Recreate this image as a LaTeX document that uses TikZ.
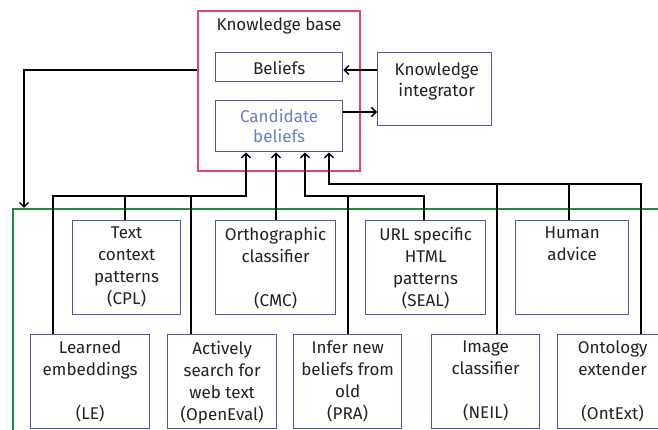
\documentclass[tikz,border=0pt]{standalone}
\usepackage{fontspec}
\setmainfont{Fira Sans}
\usetikzlibrary{arrows.meta}
\definecolor{kbpink}{HTML}{E8407A}
\definecolor{grn}{HTML}{1E8E3E}
\definecolor{boxblue}{HTML}{4F57A8}
\definecolor{candtxt}{HTML}{6A7FC8}
\definecolor{txt}{HTML}{222222}
\tikzset{
  lbl/.style={font=\fontsize{17}{22}\selectfont, text=txt, inner sep=0pt, align=center},
  comp/.style={draw=boxblue, line width=1.3pt, fill=white, inner sep=0pt, anchor=north west},
  conn/.style={draw=black, line width=1.8pt, line join=miter},
  arr/.style={-{Straight Barb[length=4.5pt,width=9pt,line width=1.5pt]}},
}
\begin{document}
\begin{tikzpicture}[x=1pt,y=-1pt]
\clip (0,0) rectangle (658,430);
\fill[white] (0,0) rectangle (658,430);
% containers
\node[draw=grn, line width=2pt, minimum width=700pt, minimum height=300pt, anchor=north west, inner sep=0pt] (green) at (12,208) {};
\node[draw=kbpink, line width=2pt, minimum width=162pt, minimum height=160pt, anchor=north west, inner sep=0pt] (kb) at (197,10) {};
\node[lbl] (kbt) at (279,26) {Knowledge base};
% knowledge base contents
\node[comp, minimum width=127pt, minimum height=29pt] (beliefs) at (215,52) {};
\node[lbl] (beliefst) at ([yshift=-1pt]beliefs.center) {Beliefs};
\node[comp, minimum width=127pt, minimum height=51pt] (cand) at (215,100) {};
\node[lbl, text=candtxt, font=\fontsize{17}{20}\selectfont] (candt) at (cand.center) {Candidate\\beliefs};
\node[comp, minimum width=114pt, minimum height=73pt] (ki) at (377,52) {};
\node[lbl, anchor=north, font=\fontsize{17}{21}\selectfont] (kit) at ([xshift=2pt,yshift=-11pt]ki.north) {Knowledge\\integrator};
% row 1
\node[comp, minimum width=108pt, minimum height=94pt] (cpl) at (72,220) {};
\node[comp, minimum width=120pt, minimum height=94pt] (cmc) at (215,220) {};
\node[comp, minimum width=120pt, minimum height=94pt] (seal) at (365,220) {};
\node[comp, minimum width=113pt, minimum height=94pt] (human) at (515,220) {};
% row 2
\node[comp, minimum width=119pt, minimum height=94pt] (le) at (30,334) {};
\node[comp, minimum width=109pt, minimum height=94pt] (oe) at (167,334) {};
\node[comp, minimum width=108pt, minimum height=94pt] (pra) at (293,334) {};
\node[comp, minimum width=108pt, minimum height=94pt] (neil) at (431,334) {};
\node[comp, minimum width=110pt, minimum height=94pt] (ont) at (557,334) {};
% texts
\node[lbl, anchor=north] (cplt) at ([yshift=-7pt]cpl.north) {Text\\context\\patterns\\(CPL)};
\node[lbl, anchor=north] (cmct) at ([yshift=-7pt]cmc.north) {Orthographic\\classifier\\\mbox{}\\(CMC)};
\node[lbl, anchor=north] (sealt) at ([yshift=-7pt]seal.north) {URL specific\\HTML\\patterns\\(SEAL)};
\node[lbl, anchor=north] (humant) at ([yshift=-7pt]human.north) {Human\\advice};
\node[lbl, anchor=north] (let) at ([yshift=-7pt]le.north) {Learned\\embeddings\\\mbox{}\\(LE)};
\node[lbl, anchor=north] (oet) at ([yshift=-7pt]oe.north) {Actively\\search for\\web text\\(OpenEval)};
\node[lbl, anchor=north] (prat) at ([yshift=-7pt]pra.north) {Infer new\\beliefs from\\old\\(PRA)};
\node[lbl, anchor=north] (neilt) at ([yshift=-7pt]neil.north) {Image\\classifier\\\mbox{}\\(NEIL)};
\node[lbl, anchor=north] (ontt) at ([yshift=-7pt]ont.north) {Ontology\\extender\\\mbox{}\\(OntExt)};
% junction coordinates
\coordinate (ya) at (0,70);
\coordinate (yb) at (0,112);
\coordinate (gin) at (24,208);
\coordinate (b1L) at (53,196);
\coordinate (b1a) at (125,196);
\coordinate (b1b) at (191,196);
\coordinate (b1R) at (246,196);
\coordinate (b3L) at (305,196);
\coordinate (b3a) at (348,196);
\coordinate (b3R) at (424,196);
\coordinate (b4L) at (329,184);
\coordinate (b4a) at (497,184);
\coordinate (b4b) at (569,184);
\coordinate (b4R) at (641,184);
\coordinate (c2) at (276,0);
% connectors
\draw[conn, arr] (ki.west |- ya) -- (beliefs.east |- ya);
\draw[conn, arr] (cand.east |- yb) -- (ki.west |- yb);
\draw[conn, arr] (kb.west |- ya) -| (gin);
\draw[conn, arr] (le.north -| b1L) -- (b1L) -- (b1R) -- (cand.south -| b1R);
\draw[conn] (cpl.north -| b1a) -- (b1a);
\draw[conn] (oe.north -| b1b) -- (b1b);
\draw[conn, arr] (cmc.north -| c2) -- (cand.south -| c2);
\draw[conn, arr] (seal.north -| b3R) -- (b3R) -- (b3L) -- (cand.south -| b3L);
\draw[conn] (pra.north -| b3a) -- (b3a);
\draw[conn, arr] (ont.north -| b4R) -- (b4R) -- (b4L) -- (cand.south -| b4L);
\draw[conn] (neil.north -| b4a) -- (b4a);
\draw[conn] (human.north -| b4b) -- (b4b);
\end{tikzpicture}
\end{document}
